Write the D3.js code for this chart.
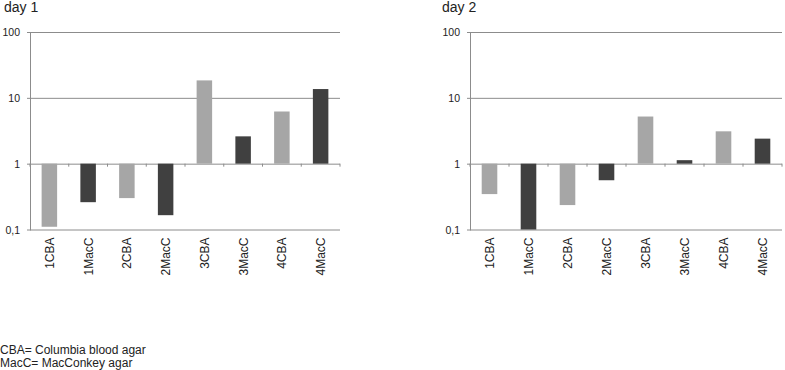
<!DOCTYPE html>
<html>
<head>
<meta charset="utf-8">
<script src="https://cdn.jsdelivr.net/npm/d3@7"></script>
<style>
  body { margin: 0; background: #fff; }
  svg { display: block; font-family: "Liberation Sans", Arial, sans-serif; }
</style>
</head>
<body>
<svg id="chart" width="785" height="370"></svg>
<script>
// categories and values
const categories = ['1CBA', '1MacC', '2CBA', '2MacC', '3CBA', '3MacC', '4CBA', '4MacC'];
const day1Values = [0.11, 0.26, 0.30, 0.165, 18.4, 2.6, 6.2, 13.6];
const day2Values = [0.345, 0.1, 0.235, 0.56, 5.2, 1.13, 3.1, 2.4];
const yTicks = [0.1, 1, 10, 100];
const yTickLabels = ['0,1', '1', '10', '100'];
const panelTitles = ['day 1', 'day 2'];
const footnotes = ['CBA= Columbia blood agar', 'MacC= MacConkey agar'];

const svg = d3.select('#chart');

const y = d3.scaleLog()
    .domain([0.1, 100])
    .range([229.5, 32]);

const colorFor = d => d.endsWith('CBA') ? '#a6a6a6' : '#404040';

function drawPanel (left, right, title, values, titleX) {
    const g = svg.append('g');

    const x = d3.scaleBand()
        .domain(categories)
        .range([left, right])
        .paddingInner(0.6)
        .paddingOuter(0.3);

    // gridlines
    g.append('g').selectAll('line')
        .data(yTicks)
        .join('line')
            .attr('x1', left)
            .attr('x2', right)
            .attr('y1', d => y(d) + 0.5)
            .attr('y2', d => y(d) + 0.5)
            .attr('stroke', '#8c8c8c')
            .attr('stroke-width', 1);

    // bars grow from 1
    g.append('g').selectAll('rect')
        .data(values)
        .join('rect')
            .attr('x', (d, i) => x(categories[i]))
            .attr('width', x.bandwidth())
            .attr('y', d => Math.min(y(1), y(d)))
            .attr('height', d => Math.abs(y(d) - y(1)))
            .attr('fill', (d, i) => colorFor(categories[i]));

    // category axis crossing at 1
    const step = (right - left) / categories.length;
    g.append('g').selectAll('line')
        .data(d3.range(categories.length + 1))
        .join('line')
            .attr('x1', i => left + i * step)
            .attr('x2', i => left + i * step)
            .attr('y1', y(1))
            .attr('y2', y(1) + 3)
            .attr('stroke', '#8c8c8c');

    // value axis
    g.append('line')
        .attr('x1', left + 0.5)
        .attr('x2', left + 0.5)
        .attr('y1', y(100))
        .attr('y2', y(0.1) + 1)
        .attr('stroke', '#8c8c8c');

    g.append('g').selectAll('line')
        .data(yTicks)
        .join('line')
            .attr('x1', left - 3)
            .attr('x2', left)
            .attr('y1', d => y(d) + 0.5)
            .attr('y2', d => y(d) + 0.5)
            .attr('stroke', '#8c8c8c');

    g.append('g').selectAll('text')
        .data(yTicks)
        .join('text')
            .attr('x', left - 10)
            .attr('y', d => y(d) + 4)
            .attr('text-anchor', 'end')
            .attr('font-size', 10.5)
            .attr('fill', '#222')
            .text((d, i) => yTickLabels[i]);

    // rotated category labels
    g.append('g').selectAll('text')
        .data(categories)
        .join('text')
            .attr('transform', d => `translate(${x(d) + x.bandwidth() / 2 + 4.5},${y(0.1) + 8}) rotate(-90)`)
            .attr('text-anchor', 'end')
            .attr('font-size', 12)
            .attr('fill', '#222')
            .text(d => d);

    svg.append('text')
        .attr('x', titleX)
        .attr('y', 12)
        .attr('font-size', 14)
        .attr('fill', '#222')
        .text(title);
}

drawPanel(30, 340, panelTitles[0], day1Values, 4);
drawPanel(470, 782, panelTitles[1], day2Values, 442);

svg.append('g').selectAll('text')
    .data(footnotes)
    .join('text')
        .attr('x', 0)
        .attr('y', (d, i) => 354 + i * 12.7)
        .attr('font-size', 12)
        .attr('fill', '#222')
        .text(d => d);
</script>
</body>
</html>
